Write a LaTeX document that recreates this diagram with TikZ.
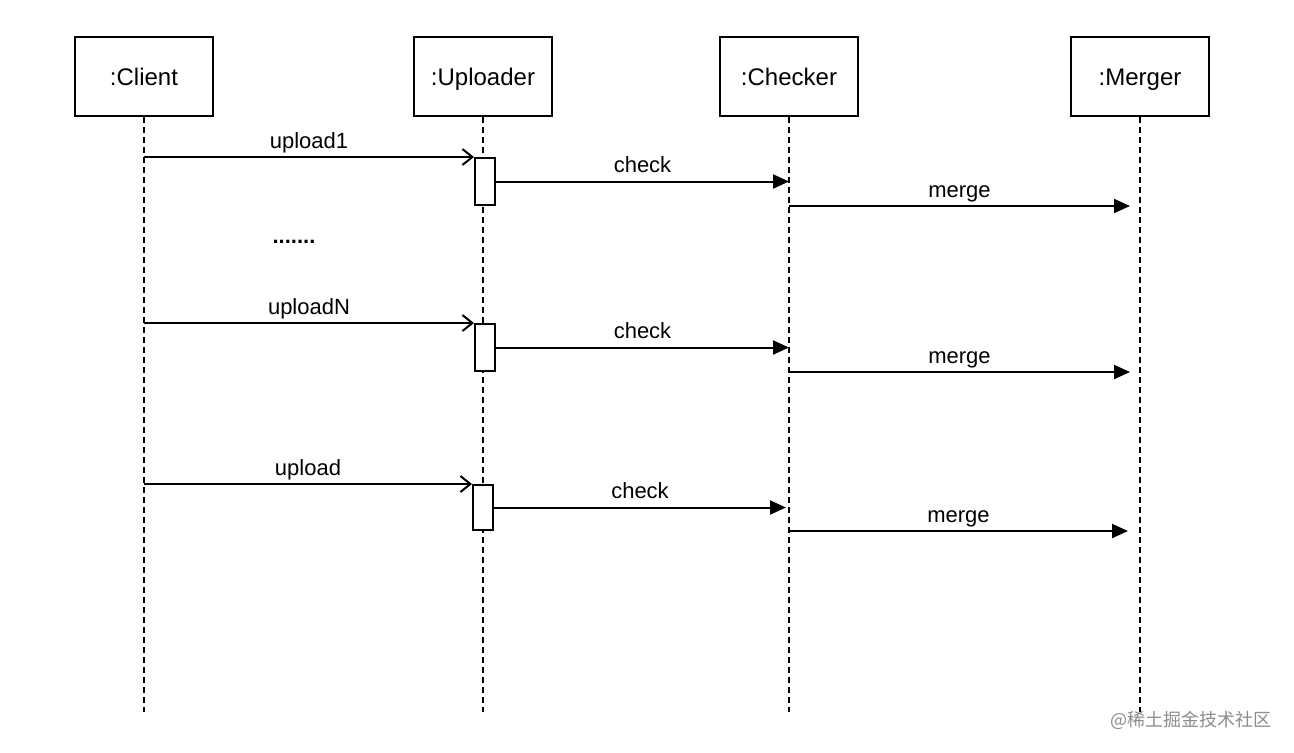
\documentclass[tikz,border=0pt]{standalone}
\usepackage{fontspec}
\setmainfont{Liberation Sans}
\newfontfamily\cjkfont{Noto Sans CJK SC}
\usetikzlibrary{arrows.meta,positioning,calc}
\definecolor{cmark}{HTML}{8C8C8C}

\begin{document}
\begin{tikzpicture}[
  x=0.5pt, y=-0.5pt,
  font=\fontsize{11}{13}\selectfont,
  obj/.style={draw, line width=1pt, minimum width=69pt, minimum height=39.5pt, inner sep=0pt,
              text height=10pt, text depth=0.8pt, font=\fontsize{12}{14}\selectfont},
  life/.style={line width=1pt, dash pattern=on 3pt off 2pt},
  act/.style={draw, fill=white, line width=1pt, minimum width=10pt, minimum height=#1, inner sep=0pt},
  call/.style={-{Straight Barb[length=5pt, width=8pt]}, line width=1pt},
  sync/.style={-{Triangle[length=8pt, width=7pt]}, line width=1pt},
  msg/.style={above, inner sep=1.5pt, text height=8pt, text depth=2.3pt},
]
\useasboundingbox (0,0) rectangle (1294,752);

% ------------------------------------------------------------ objects
\node[obj] (client)   at (144,76.5)  {:Client};
\node[obj] (uploader) at (483,76.5)  {:Uploader};
\node[obj] (checker)  at (789,76.5)  {:Checker};
\node[obj] (merger)   at (1140,76.5) {:Merger};

% ------------------------------------------------------------ lifelines
\foreach \o in {client,uploader,checker,merger}
  \draw[life] (\o.south) -- (\o.south |- 0,712);

% ------------------------------------------------------------ first upload
\node[act=23.5pt] (act1) at (485,181.5) {};
\draw[call] (client.south |- act1.north) -- node[msg]{upload1} (act1.north west);
\draw[sync] (act1.east) -- node[msg]{check} (checker.south |- act1.east);
\draw[sync] (checker.south |- act1.south) -- node[msg]{merge} ([xshift=-5pt]merger.south |- act1.south);

\node[font=\fontsize{11}{13}\selectfont\bfseries] (dots) at (294,242) {.......};

% ------------------------------------------------------------ N-th upload
\node[act=23.5pt] (act2) at (485,347.5) {};
\draw[call] (client.south |- act2.north) -- node[msg]{uploadN} (act2.north west);
\draw[sync] (act2.east) -- node[msg]{check} (checker.south |- act2.east);
\draw[sync] (checker.south |- act2.south) -- node[msg]{merge} ([xshift=-5pt]merger.south |- act2.south);

% ------------------------------------------------------------ single upload
\node[act=22.5pt] (act3) at (483,507.5) {};
\draw[call] (client.south |- act3.north) -- node[msg]{upload} (act3.north west);
\draw[sync] (act3.east) -- node[msg]{check} ([xshift=-1.5pt]checker.south |- act3.east);
\draw[sync] (checker.south |- act3.south) -- node[msg]{merge} ([xshift=-6pt]merger.south |- act3.south);

% watermark
\node[text=cmark, font=\cjkfont\fontsize{9}{11}\selectfont] (mark) at (1191,720) {@稀土掘金技术社区};

\end{tikzpicture}
\end{document}
